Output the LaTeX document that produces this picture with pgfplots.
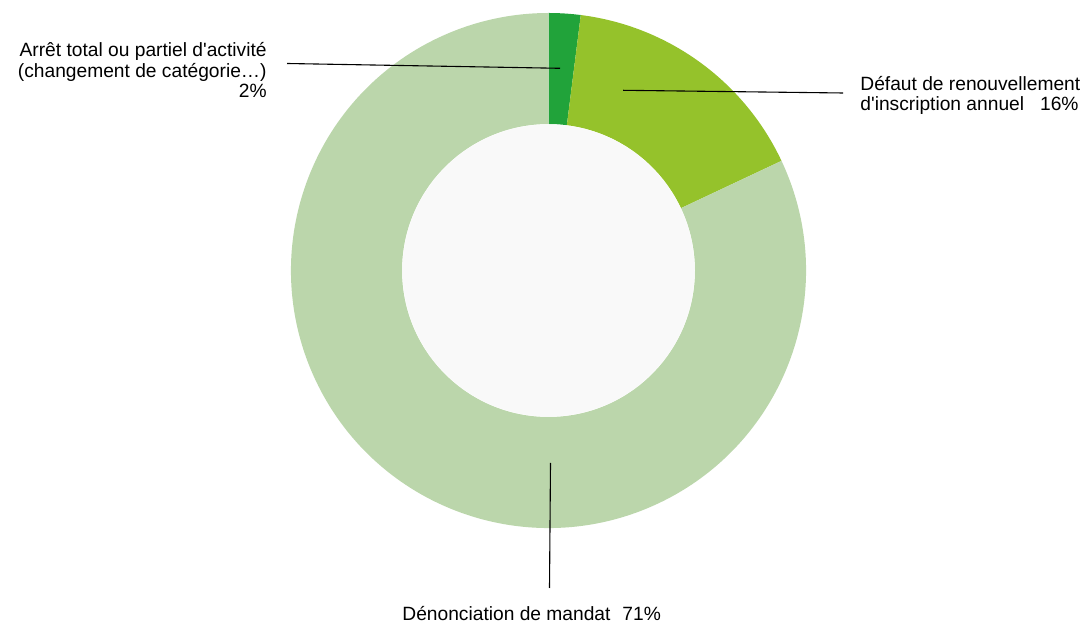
\documentclass[border=0pt]{standalone}
\usepackage{pgfplots}
\usepackage{pgfplotstable}
\pgfplotsset{compat=1.18}
\usepackage{fontspec}
\setmainfont{Liberation Sans}[Ligatures=TeXOff]

\definecolor{darkgr}{HTML}{21A33A}
\definecolor{midgr}{HTML}{95C22B}
\definecolor{lightgr}{HTML}{BBD6AB}
\definecolor{hole}{HTML}{F9F9F9}

% share of the ring (percent), clockwise from the top
\pgfplotstableread{
value colour
2  darkgr
16 midgr
82 lightgr
}\piedata

\newcommand{\lab}{\fontsize{9.6bp}{11bp}\selectfont}

\begin{document}
\begin{tikzpicture}
\useasboundingbox (0,0) rectangle (542.5bp,313bp);
\begin{axis}[hide axis, scale only axis, width=542.5bp, height=313bp,
  xmin=0, xmax=1085, ymin=0, ymax=626, clip=false]
  \pgfplotstablegetrowsof{\piedata}
  \pgfmathtruncatemacro{\nrows}{\pgfplotsretval-1}
  \def\acc{0}
  \pgfplotsforeachungrouped \i in {0,...,\nrows}{
    \pgfplotstablegetelem{\i}{value}\of\piedata \let\v\pgfplotsretval
    \pgfplotstablegetelem{\i}{colour}\of\piedata \let\slicecol\pgfplotsretval
    \pgfmathsetmacro{\aA}{90-3.6*\acc}
    \pgfmathsetmacro{\aB}{90-3.6*(\acc+\v)}
    \pgfmathsetmacro{\aC}{\aB+180}
    \pgfmathsetmacro{\acc}{\acc+\v}
    \edef\temp{\noexpand\fill[\slicecol] (axis cs:548.5,355.5) ++(\aA:128.75bp)
      arc[start angle=\aA, end angle=\aB, radius=128.75bp] -- ++(\aC:55.5bp)
      arc[start angle=\aB, end angle=\aA, radius=73.25bp] -- cycle;}
    \temp
  }
  \fill[hole] (axis cs:548.5,355.5) circle[radius=73bp];

  % leader lines
  \draw[line width=0.55bp] (axis cs:287,562.5) -- (axis cs:560,557.7);
  \draw[line width=0.55bp] (axis cs:623,535.7) -- (axis cs:843,533);
  \draw[line width=0.55bp] (axis cs:550.5,163) -- (axis cs:549.5,38);

  % labels
  \node[anchor=base east, inner sep=0pt, font=\lab] at (axis cs:267,569) {Arrêt total ou partiel d'activité};
  \node[anchor=base east, inner sep=0pt, font=\lab] at (axis cs:267,548.5) {(changement de catégorie…)};
  \node[anchor=base east, inner sep=0pt, font=\lab] at (axis cs:267,528) {2\%};
  \node[anchor=base west, inner sep=0pt, font=\lab] at (axis cs:860,535) {Défaut de renouvellement};
  \node[anchor=base west, inner sep=0pt, font=\lab] at (axis cs:860,515) {d'inscription annuel\hspace{8bp}16\%};
  \node[anchor=base west, inner sep=0pt, font=\lab] at (axis cs:402,6) {Dénonciation de mandat\hspace{6bp}71\%};
\end{axis}
\end{tikzpicture}
\end{document}
